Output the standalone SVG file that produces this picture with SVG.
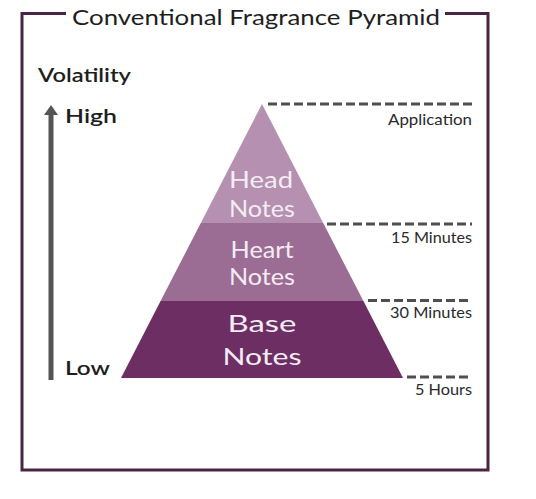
<svg xmlns="http://www.w3.org/2000/svg" width="536" height="499" viewBox="0 0 536 499">
<style>
text{font-family:"Lato","Open Sans","DejaVu Sans",sans-serif;}
.lbl{font-size:20px;font-weight:600;fill:#1e1e1e;}
.time{font-size:15px;fill:#2a2a2a;text-anchor:end;}
.note{font-size:24px;fill:#f4ecf3;text-anchor:middle;}
.dash{stroke:#4f4f4f;stroke-width:3;stroke-dasharray:9 4;fill:none;}
</style>
<rect width="536" height="499" fill="#ffffff"/>
<g id="frame">
<path d="M66,13.5 H22 V470 H488 V13.5 H445" fill="none" stroke="#4a2445" stroke-width="3"/>
<text x="72" y="25" font-size="22" fill="#1e1e1e" textLength="368" lengthAdjust="spacingAndGlyphs">Conventional Fragrance Pyramid</text>
</g>
<g id="axis">
<text class="lbl" x="38" y="82" textLength="93" lengthAdjust="spacingAndGlyphs">Volatility</text>
<rect x="48.5" y="113" width="5" height="267" fill="#555555"/>
<polygon points="51,105 44,115 58,115" fill="#555555"/>
<text class="lbl" x="65" y="123" textLength="52" lengthAdjust="spacingAndGlyphs">High</text>
<text class="lbl" x="65" y="375" textLength="45" lengthAdjust="spacingAndGlyphs">Low</text>
</g>
<g id="head">
<polygon points="262,104 323.2,223 200.8,223" fill="#b590b1"/>
<text class="note" x="261" y="188" textLength="64" lengthAdjust="spacingAndGlyphs">Head</text>
<text class="note" x="262" y="217" textLength="66" lengthAdjust="spacingAndGlyphs">Notes</text>
</g>
<g id="heart">
<polygon points="200.8,223 323.2,223 363.4,301 160.6,301" fill="#9c6d94"/>
<text class="note" x="262" y="258" textLength="63" lengthAdjust="spacingAndGlyphs">Heart</text>
<text class="note" x="262" y="285" textLength="66" lengthAdjust="spacingAndGlyphs">Notes</text>
</g>
<g id="base">
<polygon points="160.6,301 363.4,301 403,378 121,378" fill="#6d2e64"/>
<text class="note" x="262" y="332" font-size="29" textLength="69" lengthAdjust="spacingAndGlyphs">Base</text>
<text class="note" x="262" y="365" font-size="29" textLength="79" lengthAdjust="spacingAndGlyphs">Notes</text>
</g>
<g id="connectors">
<line class="dash" x1="268" y1="104" x2="472" y2="104"/>
<line class="dash" x1="327" y1="224" x2="472" y2="224"/>
<line class="dash" x1="368" y1="300.5" x2="472" y2="300.5"/>
<line class="dash" x1="407" y1="377" x2="472" y2="377"/>
</g>
<g id="times">
<text class="time" x="472" y="125" textLength="84" lengthAdjust="spacingAndGlyphs">Application</text>
<text class="time" x="472" y="243" textLength="81" lengthAdjust="spacingAndGlyphs">15 Minutes</text>
<text class="time" x="472" y="318" textLength="82" lengthAdjust="spacingAndGlyphs">30 Minutes</text>
<text class="time" x="472" y="395" textLength="57" lengthAdjust="spacingAndGlyphs">5 Hours</text>
</g>
</svg>
